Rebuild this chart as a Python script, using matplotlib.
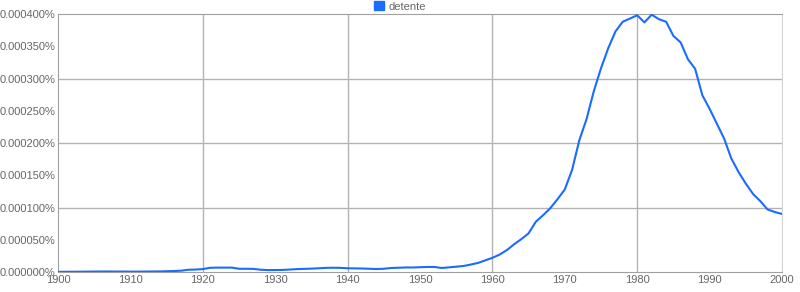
import matplotlib
matplotlib.use('Agg')
import matplotlib.pyplot as plt
import matplotlib.patches as mpatches
import numpy

plt.rcParams['font.family'] = ['Liberation Sans', 'DejaVu Sans']

years = list(range(1900, 2001))
# frequency of "detente" in percent
detente = [
    0.0000002, 0.0000003, 0.0000004, 0.0000005, 0.0000006, 0.0000007, 0.0000008, 0.0000008, 0.0000007, 0.0000007,
    0.0000006, 0.0000006, 0.0000007, 0.0000008, 0.0000009, 0.0000012, 0.0000015, 0.0000020, 0.0000035, 0.0000038,
    0.0000045, 0.0000065, 0.0000068, 0.0000068, 0.0000068, 0.0000050, 0.0000050, 0.0000048, 0.0000035, 0.0000030,
    0.0000030, 0.0000032, 0.0000038, 0.0000045, 0.0000048, 0.0000052, 0.0000058, 0.0000064, 0.0000066, 0.0000064,
    0.0000058, 0.0000056, 0.0000054, 0.0000050, 0.0000046, 0.0000050, 0.0000062, 0.0000066, 0.0000070, 0.0000070,
    0.0000074, 0.0000078, 0.0000078, 0.0000062, 0.0000072, 0.0000082, 0.0000093, 0.0000115, 0.0000140, 0.0000180,
    0.000022, 0.000027, 0.000034, 0.000043, 0.000051, 0.000060, 0.000078, 0.000088, 0.000099, 0.000113,
    0.000128, 0.000158, 0.000204, 0.000237, 0.000280, 0.000316, 0.000347, 0.000373, 0.000388, 0.000393,
    0.000398, 0.000387, 0.000399, 0.000392, 0.000388, 0.000366, 0.000356, 0.000330, 0.000315, 0.000274,
    0.000253, 0.000230, 0.000207, 0.000176, 0.000155, 0.000137, 0.000121, 0.000110, 0.000097, 0.000093,
    0.000090,
]
series_name = 'detente'
x_ticks = list(range(1900, 2001, 10))
y_ticks = [0.0, 0.00005, 0.0001, 0.00015, 0.0002, 0.00025, 0.0003, 0.00035, 0.0004]

line_color = '#1a6cff'
grid_color = '#b3b3b3'

fig = plt.figure(figsize=(8, 2.92), dpi=100)
ax = fig.add_axes([0.0725, 0.0685, 0.905, 0.8835])

ax.plot(years, detente, color=line_color, linewidth=1.5, zorder=3)

ax.set_xlim(1900, 2000)
ax.set_ylim(0, 0.0004)
ax.set_xticks(x_ticks)
ax.set_yticks(y_ticks)
ax.set_yticklabels(['%.6f%%' % v for v in y_ticks])

# grid lines every 20 years and every 0.0001%
for yr in range(1920, 2000, 20):
    ax.axvline(yr, color=grid_color, linewidth=1, zorder=1)
for v in [0.0001, 0.0002, 0.0003]:
    ax.axhline(v, color=grid_color, linewidth=1, zorder=1)

ax.tick_params(length=0, labelsize=8, labelcolor='#666666', pad=2)
for side in ['left', 'bottom', 'top']:
    ax.spines[side].set_color('#a0a0a0')
ax.spines['right'].set_color('#d4d4d4')

handle = mpatches.Patch(color=line_color, label=series_name)
leg = fig.legend(handles=[handle], loc='upper center', bbox_to_anchor=(0.5, 1.03),
                 frameon=False, fontsize=8, handlelength=0.9, handleheight=0.9,
                 handletextpad=0.4)
for t in leg.get_texts():
    t.set_color('#666666')

fig.savefig('out.png', dpi=100)
